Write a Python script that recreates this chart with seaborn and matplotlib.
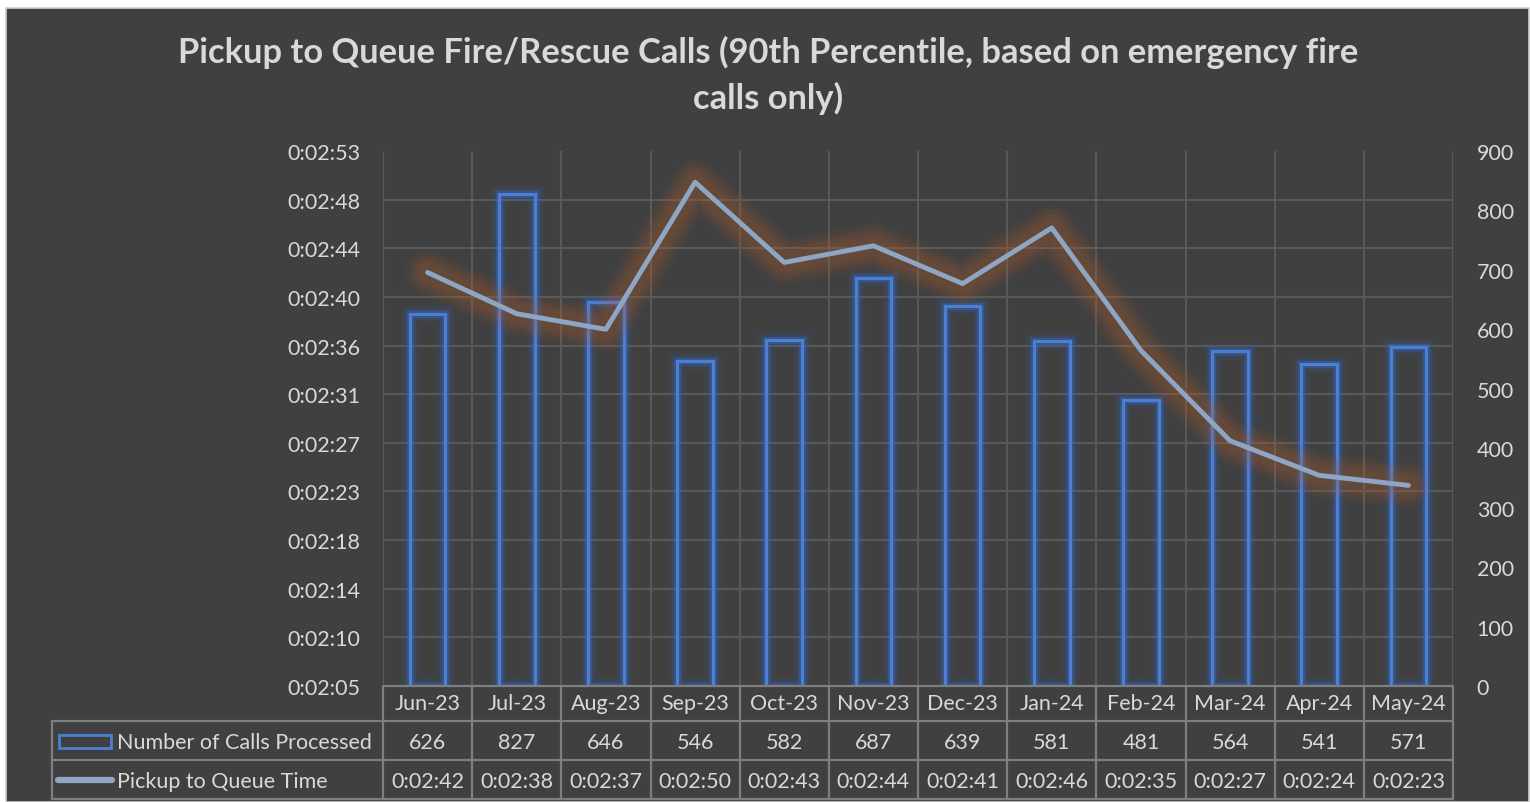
import numpy as np
import matplotlib
matplotlib.use("Agg")
import matplotlib.pyplot as plt
import matplotlib.patheffects as pe
from matplotlib.patches import Rectangle
from matplotlib.lines import Line2D
import seaborn as sns

# data
months = ["Jun-23", "Jul-23", "Aug-23", "Sep-23", "Oct-23", "Nov-23",
          "Dec-23", "Jan-24", "Feb-24", "Mar-24", "Apr-24", "May-24"]
calls = [626, 827, 646, 546, 582, 687, 639, 581, 481, 564, 541, 571]
# pickup to queue time in seconds (90th percentile)
pq_secs = [162.1, 158.4, 157.0, 170.2, 163.0, 164.5, 161.1, 166.1, 155.1, 147.0, 143.9, 143.0]
pq_labels = ["0:02:42", "0:02:38", "0:02:37", "0:02:50", "0:02:43", "0:02:44",
             "0:02:41", "0:02:46", "0:02:35", "0:02:27", "0:02:24", "0:02:23"]
left_ticks = ["0:02:05", "0:02:10", "0:02:14", "0:02:18", "0:02:23", "0:02:27",
              "0:02:31", "0:02:36", "0:02:40", "0:02:44", "0:02:48", "0:02:53"]
right_ticks = [0, 100, 200, 300, 400, 500, 600, 700, 800, 900]

BG = "#404040"
TXT = "#d9d9d9"
GRID = "#595959"
TBL = "#7f7f7f"
BAR = "#4a7fd8"
LINE = "#8ea6c4"
GLOW = "#b8622e"
FS = 15.5

sns.set_style("dark")
plt.rcParams["font.family"] = ["Lato", "DejaVu Sans"]

fig = plt.figure(figsize=(15.3, 8.03), dpi=100, facecolor="white")
fig.patches.append(Rectangle((6 / 1530, 0), 1523 / 1530, 794 / 803, transform=fig.transFigure,
                             facecolor=BG, edgecolor="#d0d0d0", linewidth=1.2, zorder=-10))

ax = fig.add_axes([383 / 1530, 1 - 687 / 803, 1070 / 1530, 535 / 803])
ax.set_facecolor(BG)
for s in ax.spines.values():
    s.set_visible(False)

# bars: number of calls (right scale)
sns.barplot(x=months, y=calls, ax=ax, fill=False, color=BAR, width=0.4, linewidth=2.2)
for p in ax.patches:
    p.set_edgecolor(BAR)
    p.set_path_effects([pe.Stroke(linewidth=12, foreground="#2e5fb8", alpha=0.10),
                        pe.Stroke(linewidth=8, foreground="#2e5fb8", alpha=0.20),
                        pe.Stroke(linewidth=5, foreground="#3f74d0", alpha=0.30),
                        pe.Normal()])
ax.set_xlim(-0.5, len(months) - 0.5)
ax.set_ylim(0, 900)
ax.set_xlabel("")
ax.set_ylabel("")

# line: pickup to queue time (left scale)
ax2 = ax.twinx()
for s in ax2.spines.values():
    s.set_visible(False)
sns.lineplot(x=np.arange(len(months)), y=pq_secs, ax=ax2, color=LINE, linewidth=3.5)
ax2.lines[0].set_path_effects([pe.Stroke(linewidth=32, foreground=GLOW, alpha=0.07),
                               pe.Stroke(linewidth=26, foreground=GLOW, alpha=0.09),
                               pe.Stroke(linewidth=20, foreground=GLOW, alpha=0.10),
                               pe.Stroke(linewidth=14, foreground=GLOW, alpha=0.09),
                               pe.Normal()])
ax2.set_ylim(125, 173)
ax2.yaxis.tick_left()
ax2.set_yticks(np.linspace(125, 173, len(left_ticks)))
ax2.set_yticklabels(left_ticks)
ax2.tick_params(axis="y", length=0, labelsize=FS, labelcolor=TXT, pad=16.5)
ax2.set_ylabel("")
ax2.grid(False)
ax2.set_xlim(-0.5, len(months) - 0.5)

# right scale ticks and the grid on the bar axes (after twinx)
ax.yaxis.tick_right()
ax.set_yticks(right_ticks)
ax.set_yticklabels([str(v) for v in right_ticks])
ax.set_yticks(np.linspace(0, 900, len(left_ticks)), minor=True)
ax.set_xticks(np.arange(-0.5, len(months)), minor=True)
ax.grid(False)
ax.grid(which="minor", color=GRID, linewidth=1.5)
ax.tick_params(axis="y", which="both", length=0, labelsize=FS, labelcolor=TXT, pad=17,
               labelleft=False, labelright=True)
ax.tick_params(axis="x", which="both", length=0, labelbottom=False)
for lab in ax.get_yticklabels():
    lab.set_horizontalalignment("left")

# title
fig.text(0.502, 1 - 52 / 803, "Pickup to Queue Fire/Rescue Calls (90th Percentile, based on emergency fire",
         ha="center", va="center", fontsize=24.8, fontweight="bold", color=TXT)
fig.text(0.502, 1 - 98 / 803, "calls only)",
         ha="center", va="center", fontsize=24.8, fontweight="bold", color=TXT)

# data table under the plot
tr = ax.get_xaxis_transform()
h = 535.0
y_head = -35 / h
y_r1 = -74 / h
y_r2 = -113 / h
n = len(months)
ppu = 1070 / n
x_left = -0.5 - 331 / ppu
lkw = dict(color=TBL, linewidth=1.6, transform=tr, clip_on=False)
for i in range(n + 1):
    ax.add_line(Line2D([i - 0.5, i - 0.5], [0, y_r2], **lkw))
ax.add_line(Line2D([x_left, x_left], [y_head, y_r2], **lkw))
ax.add_line(Line2D([-0.5, n - 0.5], [0, 0], **lkw))
for yy in (y_head, y_r1, y_r2):
    ax.add_line(Line2D([x_left, n - 0.5], [yy, yy], **lkw))

for i in range(n):
    ax.text(i, (0 + y_head) / 2, months[i], transform=tr, ha="center", va="center",
            fontsize=FS, color=TXT)
    ax.text(i, (y_head + y_r1) / 2 - 0.003, str(calls[i]), transform=tr, ha="center",
            va="center", fontsize=FS, color=TXT)
    ax.text(i, (y_r1 + y_r2) / 2 - 0.003, pq_labels[i], transform=tr, ha="center",
            va="center", fontsize=FS, color=TXT)

kx0 = -0.5 - (383 - 59) / ppu
kx1 = -0.5 - (383 - 111) / ppu
ax.add_patch(Rectangle((kx0, -(749 - 687) / h), kx1 - kx0, 13 / h, transform=tr,
                       fill=False, edgecolor=BAR, linewidth=2, clip_on=False))
ax.add_line(Line2D([-0.5 - (383 - 58) / ppu, -0.5 - (383 - 112) / ppu],
                   [(y_r1 + y_r2) / 2, (y_r1 + y_r2) / 2], color=LINE, linewidth=4.5,
                   solid_capstyle="round", transform=tr, clip_on=False))
tx = -0.5 - (383 - 117) / ppu
ax.text(tx, (y_head + y_r1) / 2 - 0.003, "Number of Calls Processed", transform=tr, ha="left",
        va="center", fontsize=FS, color=TXT)
ax.text(tx, (y_r1 + y_r2) / 2 - 0.003, "Pickup to Queue Time", transform=tr, ha="left",
        va="center", fontsize=FS, color=TXT)

fig.savefig("out.png", dpi=100, facecolor=fig.get_facecolor())
